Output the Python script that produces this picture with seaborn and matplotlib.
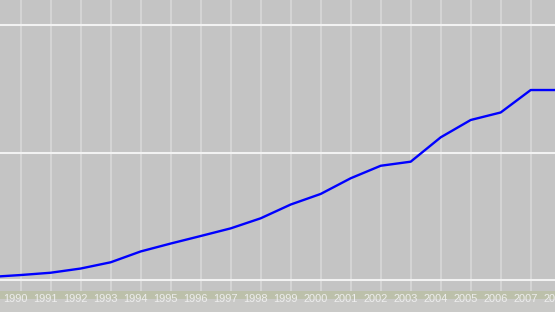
import matplotlib
matplotlib.use("Agg")
import matplotlib.pyplot as plt
import matplotlib.transforms as mtransforms
from matplotlib.patches import Rectangle
import seaborn as sns
import pandas as pd

years = [1989, 1990, 1991, 1992, 1993, 1994, 1995, 1996, 1997, 1998,
         1999, 2000, 2001, 2002, 2003, 2004, 2005, 2006, 2007, 2008]
values = [2.4, 3.9, 5.7, 9.0, 13.9, 22.4, 28.6, 34.5, 40.5, 48.4,
          59.2, 67.5, 79.8, 89.6, 92.8, 111.9, 125.5, 131.4, 149.0, 149.0]
tick_labels = [str(y) for y in range(1990, 2009)]

df = pd.DataFrame({"year": years, "value": values})

sns.set_theme(style="white")
plt.rcParams['font.family'] = ['Liberation Sans', 'DejaVu Sans']

W, H = 555, 312
fig = plt.figure(figsize=(W / 100, H / 100), dpi=100)
fig.patch.set_facecolor("#c8c8c8")

# bottom strip
fig.patches.append(Rectangle((0, 0), 1, 21 / H, transform=fig.transFigure,
                             facecolor="#c9c9c7", edgecolor="none", zorder=-2))
fig.patches.append(Rectangle((0, 13 / H), 1, 8 / H, transform=fig.transFigure,
                             facecolor="#bcc0aa", edgecolor="none", zorder=-1))

ax = fig.add_axes([0, 21 / H, 1, 1 - 21 / H])
ax.set_facecolor("#c4c4c4")

x0 = 1990 - 20.7 / 30.0
ax.set_xlim(x0, x0 + W / 30.0)
ax.set_ylim(-11 / 1.275, 280 / 1.275)

for yr in range(1990, 2009):
    ax.axvline(yr, color="#d6d6d6", lw=1.3, zorder=1)
for gv in [0, 100, 200]:
    ax.axhline(gv, color="#f2f2f2", lw=1.5, zorder=2)

sns.lineplot(data=df, x="year", y="value", ax=ax, color="#0000ff", lw=1.7, zorder=3)

ax.set_xticks([])
ax.set_yticks([])
ax.set_xlabel("")
ax.set_ylabel("")
for s in ax.spines.values():
    s.set_visible(False)

trans = mtransforms.blended_transform_factory(ax.transData, fig.transFigure)
for lab in tick_labels:
    ax.text(int(lab) - 5 / 30.0, 12.5 / H, lab, transform=trans, ha="center", va="center",
            fontsize=7.9, color="#eeeeee", clip_on=False, zorder=10)

fig.savefig("out.png", dpi=100)
